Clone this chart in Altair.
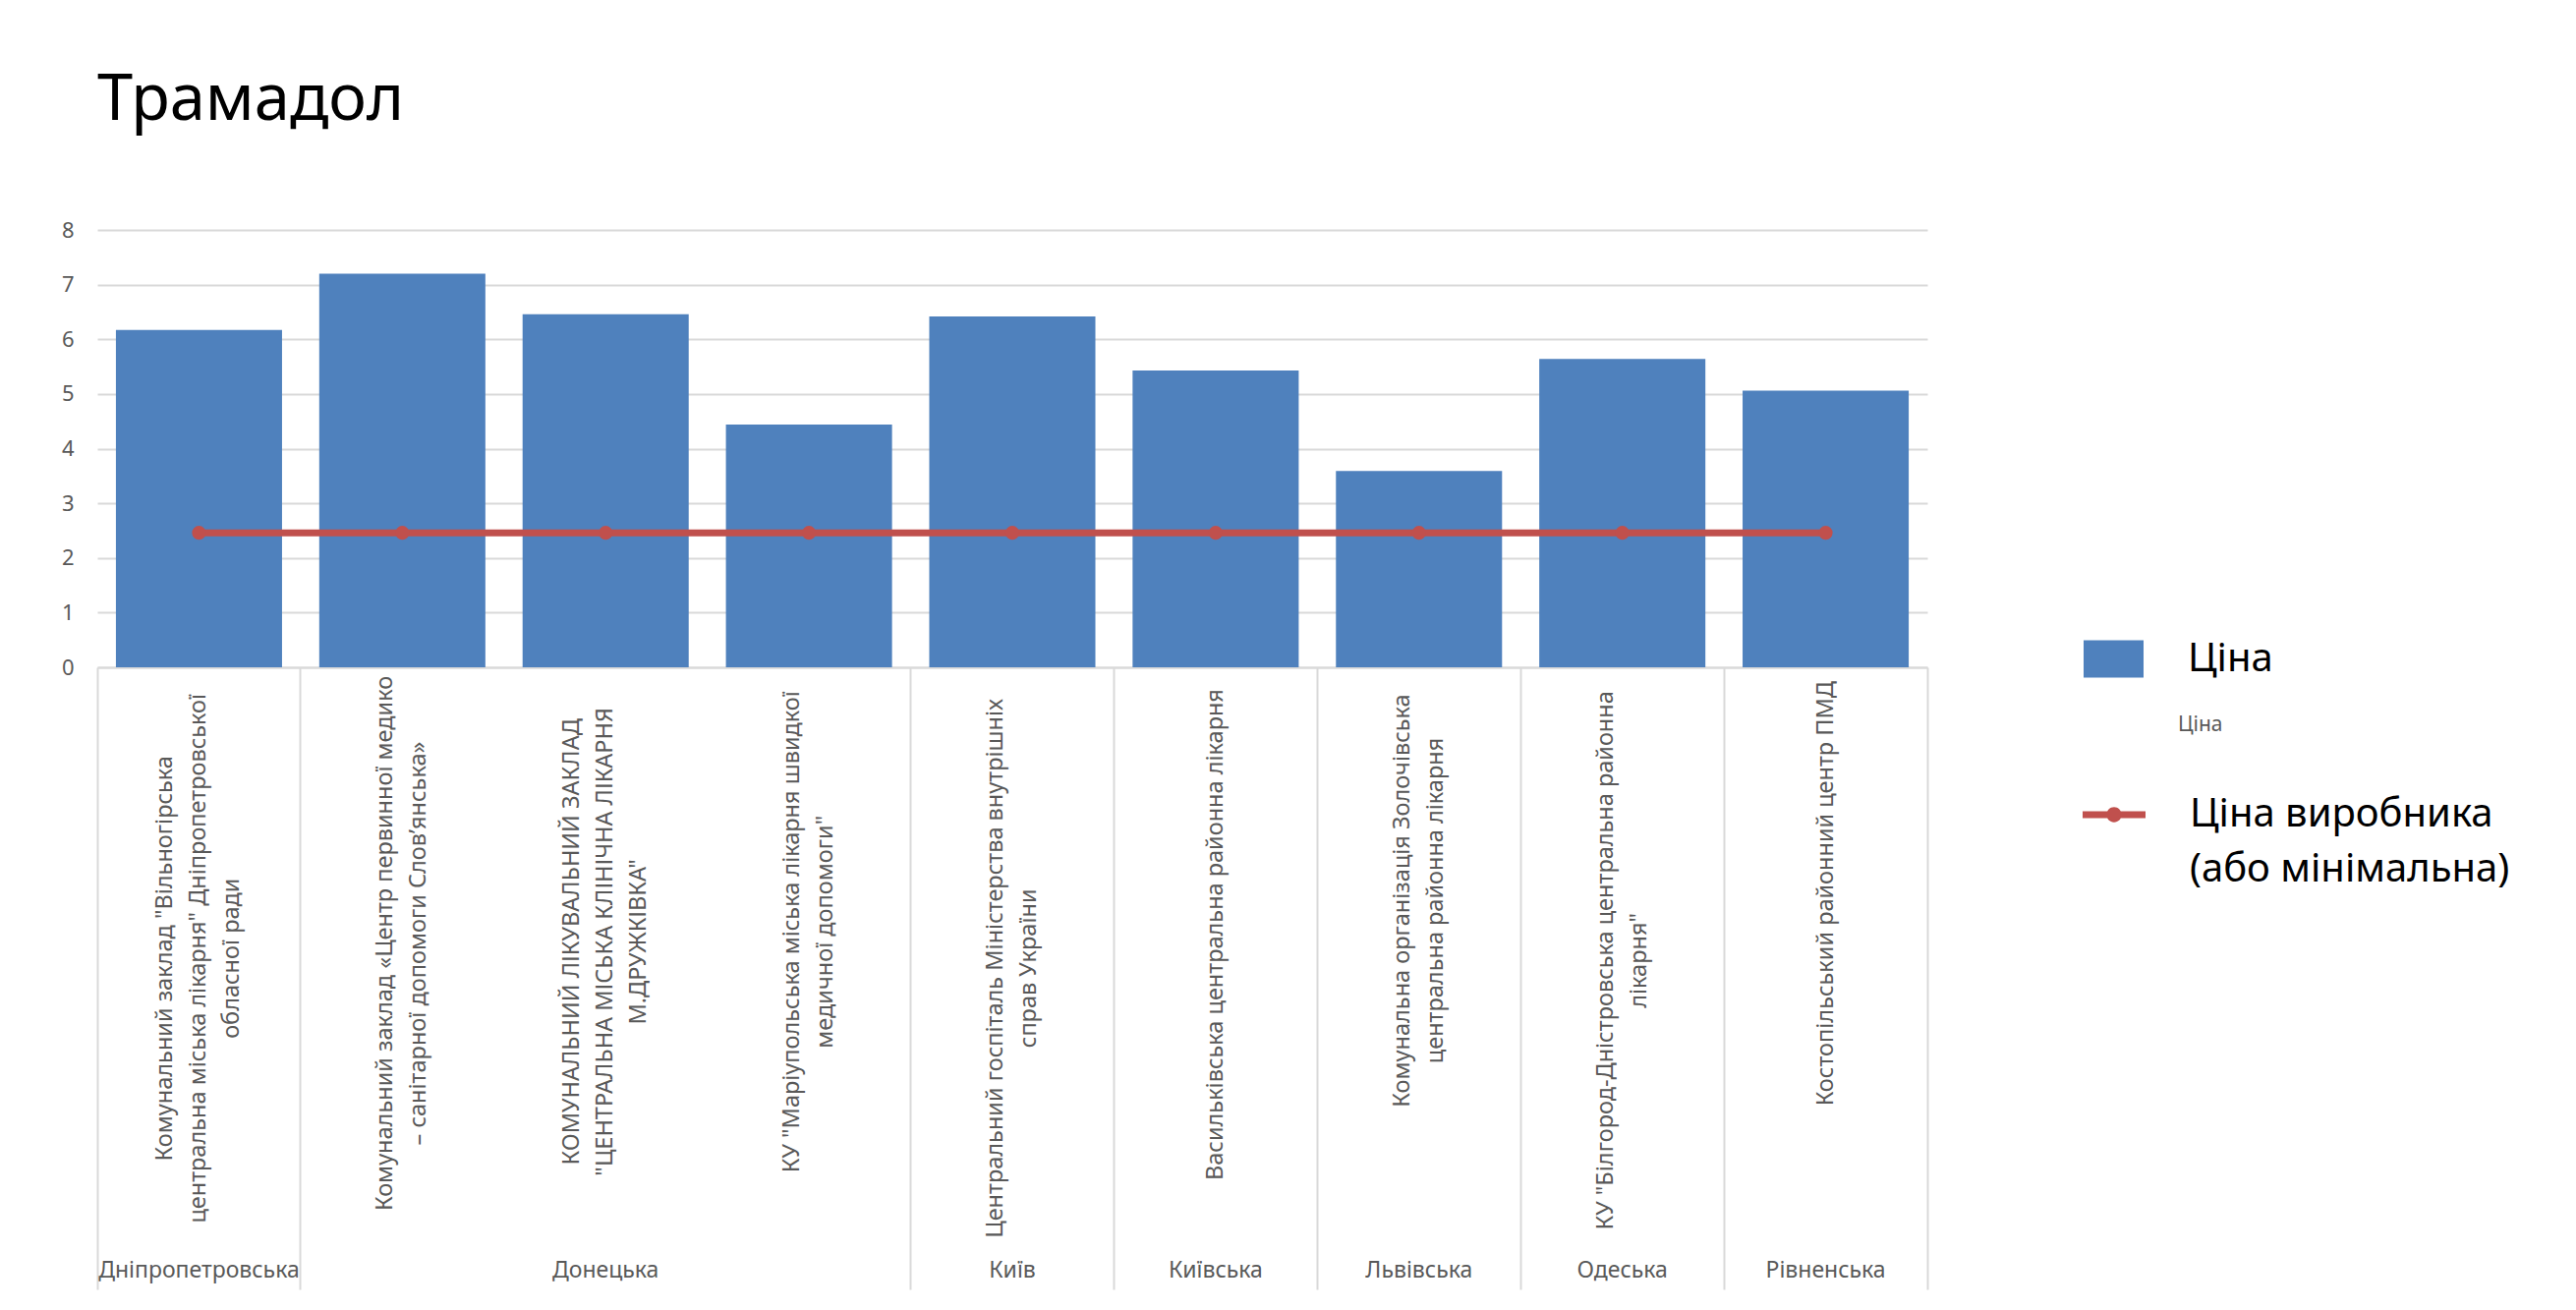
import altair as alt
import pandas as pd

FONT = "Noto Sans"
BLUE = "#4F81BD"
RED = "#C0504D"
GRID = "#D9D9D9"
TXT = "#595959"

chart_title = "Трамадол"
regions = ["Дніпропетровська", "Донецька", "Донецька", "Донецька", "Київ",
           "Київська", "Львівська", "Одеська", "Рівненська"]
hospital_lines = [
    ["Комунальний заклад \"Вільногірська", "центральна міська лікарня\" Дніпропетровської", "обласної ради"],
    ["Комунальний заклад «Центр первинної медико", "– санітарної допомоги Слов’янська»"],
    ["КОМУНАЛЬНИЙ ЛІКУВАЛЬНИЙ ЗАКЛАД", "\"ЦЕНТРАЛЬНА МІСЬКА КЛІНІЧНА ЛІКАРНЯ", "М.ДРУЖКІВКА\""],
    ["КУ \"Маріупольська міська лікарня швидкої", "медичної допомоги\""],
    ["Центральний госпіталь Міністерства внутрішніх", "справ України"],
    ["Васильківська центральна районна лікарня"],
    ["Комунальна організація Золочівська", "центральна районна лікарня"],
    ["КУ \"Білгород-Дністровська центральна районна", "лікарня\""],
    ["Костопільський районний центр ПМД"],
]
price = [6.17, 7.20, 6.46, 4.44, 6.42, 5.43, 3.59, 5.64, 5.06]
producer_price = [2.46, 2.46, 2.46, 2.46, 2.46, 2.46, 2.46, 2.46, 2.46]
series_bar = "Ціна"
series_line = "Ціна виробника (або мінімальна)"
legend_note = "Ціна"
y_ticks = [0, 1, 2, 3, 4, 5, 6, 7, 8]

PLOT_W = 1862
PLOT_H = 445
LABEL_FS = 23.5
LABEL_LH = 34


def est_width(s, fs):
    w = 0.0
    for ch in s:
        if ch == " ":
            w += 0.26
        elif ch.isupper():
            w += 0.68
        elif ch in "\"«»’.-–":
            w += 0.38
        else:
            w += 0.56
    return w * fs


keys = [" ".join(l) for l in hospital_lines]
step = PLOT_W / len(keys)
df = pd.DataFrame({
    "hospital": keys,
    "region": regions,
    "price": price,
    "producer": producer_price,
    "label": ["|".join(l) for l in hospital_lines],
    "series_bar": series_bar,
    "series_line": series_line,
})
# centre each rotated multi-line block on its band and hang it just under the axis
df["yoff"] = [18 + max(est_width(s, LABEL_FS) for s in l) / 2 for l in hospital_lines]
df["xoff"] = [step / 2 - (len(l) - 1) * LABEL_LH / 2 for l in hospital_lines]

# region groups
group_rows = []
group_end_keys = []
i = 0
n = len(keys)
while i < n:
    j = i
    while j + 1 < n and regions[j + 1] == regions[i]:
        j += 1
    group_rows.append({"region": regions[i], "hospital": keys[(i + j) // 2]})
    group_end_keys.append(keys[j])
    i = j + 1
rdf = pd.DataFrame(group_rows)

xscale = alt.Scale(domain=keys, paddingInner=0, paddingOuter=0)
yscale = alt.Scale(domain=[0, 8], nice=False)

xaxis = alt.Axis(values=group_end_keys, labels=False, bandPosition=1, tickExtra=True,
                 tickSize=633, tickColor=GRID, tickWidth=2,
                 domainColor=GRID, domainWidth=2, title=None)
yaxis = alt.Axis(values=y_ticks, grid=True, gridColor=GRID, gridWidth=2,
                 domain=False, ticks=False, labelFontSize=22, labelColor=TXT,
                 labelPadding=24, labelFont=FONT, title=None)


def xenc():
    return alt.X("hospital:N", scale=xscale, sort=keys, title=None, axis=xaxis)


bars = alt.Chart(df).mark_bar(width=alt.RelativeBandSize(0.817)).encode(
    x=xenc(),
    y=alt.Y("price:Q", scale=yscale, title=None, axis=yaxis),
    fill=alt.Fill("series_bar:N", scale=alt.Scale(domain=[series_bar], range=[BLUE]),
                  legend=alt.Legend(orient="none", legendX=2021, legendY=406,
                                    title=legend_note, titleOrient="bottom",
                                    titleAnchor="middle", titleAlign="left",
                                    titleFontSize=21, titleColor=TXT, titleFont=FONT,
                                    titleFontWeight="normal", titlePadding=36,
                                    symbolType="M-1,-0.62H1V0.62H-1Z", symbolSize=3721,
                                    symbolStrokeWidth=0, labelFontSize=40, labelFont=FONT,
                                    labelColor="black", labelOffset=45, labelLimit=0,
                                    padding=0)),
)

line = alt.Chart(df).mark_line(color=RED, strokeWidth=7).encode(
    x=xenc(),
    y=alt.Y("producer:Q", scale=yscale, title=None, axis=yaxis),
)

legend_line_path = ("M-1,-0.11H1V0.11H-1Z "
                    "M-0.24,0A0.24,0.24 0 1,1 0.24,0A0.24,0.24 0 1,1 -0.24,0Z")

pts = alt.Chart(df).mark_circle(size=200, opacity=1).encode(
    x=xenc(),
    y=alt.Y("producer:Q", scale=yscale, title=None, axis=yaxis),
    color=alt.Color("series_line:N", scale=alt.Scale(domain=[series_line], range=[RED]),
                    legend=alt.Legend(orient="none", legendX=2020, legendY=563,
                                      title=None,
                                      symbolType=legend_line_path, symbolSize=4096,
                                      symbolStrokeWidth=0, labelFontSize=40, labelFont=FONT,
                                      labelColor="black", labelOffset=45, labelLimit=0,
                                      labelExpr="split(replace(datum.label, ' (', '|('), '|')",
                                      padding=0)),
)

hosp_text = alt.Chart(df).transform_calculate(
    lines="split(datum.label, '|')"
).mark_text(angle=270, align="center", baseline="middle", fontSize=LABEL_FS,
            lineHeight=LABEL_LH, color=TXT, font=FONT).encode(
    x=xenc(),
    xOffset=alt.XOffset("xoff:Q", scale=None),
    y=alt.YDatum(0, scale=yscale, title=None, axis=yaxis),
    yOffset=alt.YOffset("yoff:Q", scale=None),
    text="lines:N",
)

region_text = alt.Chart(rdf).mark_text(align="center", baseline="middle", fontSize=23,
                                       color=TXT, font=FONT, dy=614).encode(
    x=xenc(),
    y=alt.YDatum(0, scale=yscale, title=None, axis=yaxis),
    text="region:N",
)

chart = alt.layer(bars, line, pts, hosp_text, region_text).properties(
    width=PLOT_W,
    height=PLOT_H,
    title=alt.Title(chart_title, anchor="start", frame="group", fontSize=65, font=FONT,
                    color="black", fontWeight="normal", offset=87),
    padding={"left": 54, "top": 62, "right": 10, "bottom": 5},
).configure(font=FONT, style={"guide-label": {"lineHeight": 56}}).configure_view(stroke=None)

chart.save("out.html", embed_options={"renderer": "svg", "actions": False})
